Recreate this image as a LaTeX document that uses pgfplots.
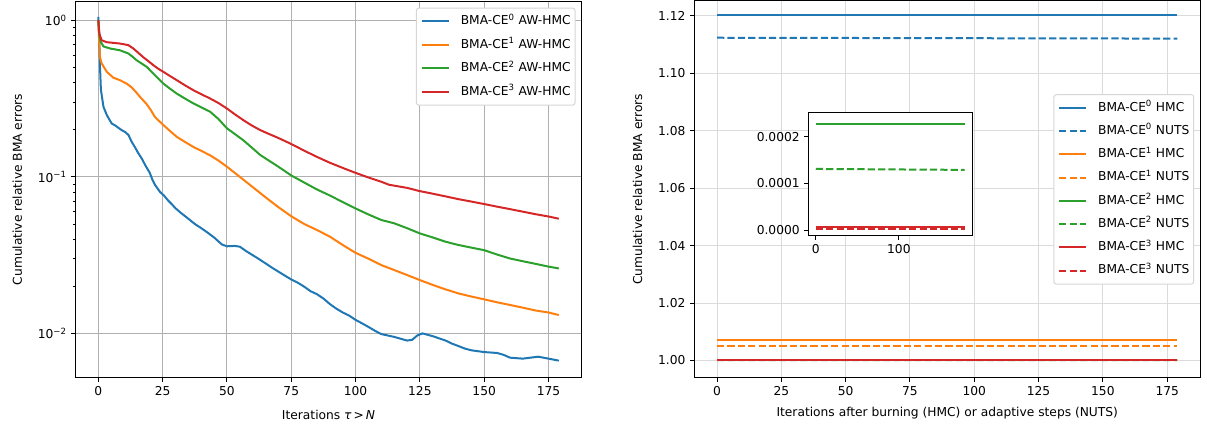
\documentclass[border=0pt]{standalone}
\usepackage{fontspec}
\setmainfont{DejaVu Sans}
\usepackage{pgfplots}
\pgfplotsset{compat=1.18}
\definecolor{cA}{HTML}{1F77B4}
\definecolor{cB}{HTML}{FF7F0E}
\definecolor{cC}{HTML}{2CA02C}
\definecolor{cD}{HTML}{D62728}
\definecolor{lgfr}{HTML}{D6D6D6}
\newcommand\fs{\fontsize{9.8}{11.8}\selectfont}
\tikzset{
  mplsolid/.style={solid, line width=1.6pt},
  mpldash/.style={line width=1.6pt, dash pattern=on 5.8pt off 2.5pt},
}
\pgfplotsset{
  mpl/.style={
    scale only axis, width=405.2pt, height=301.4pt,
    axis line style={line width=0.8pt, black},
    every tick/.style={black, line width=0.8pt},
    major tick length=3.4pt, minor tick length=2pt,
    minor tick style={line width=0.6pt},
    tick align=outside, tick pos=left,
    tick label style={font=\fs},
    label style={font=\fs, inner sep=0pt},
    /pgf/number format/assume math mode=true,
    scaled ticks=false,
    legend cell align=left,
    legend image code/.code={\draw[##1] (0pt,0pt) -- (21.8pt,0pt);},
  },
  mpllegend/.style={
    legend style={font=\fs, draw=lgfr, line width=0.8pt, rounded corners=2pt,
      fill=white,
      inner xsep=3.5pt, inner ysep=5.9pt, row sep=#1, column sep=8.6pt,
      nodes={inner sep=0pt, text height=7.3pt, text depth=2.2pt}},
  },
}
\begin{document}
\begin{tikzpicture}
\useasboundingbox (0,0) rectangle (965.6pt,344pt);
% ---------------- left
\begin{axis}[mpl, mpllegend=9.3pt,
  at={(60.24pt,41.6pt)}, anchor=south west,
  ymode=log, xmin=-8.95, xmax=187.95, ymin=0.00519, ymax=1.322,
  xtick={0,25,50,75,100,125,150,175},
  ytick={0.01,0.1,1},
  yticklabels={10\textsuperscript{−2},10\textsuperscript{−1},10\textsuperscript{0}},
  grid=major, major grid style={line width=0.8pt, color=black!31},
  xlabel={Iterations {\itshape τ}\,>\,{\itshape N}},
  ylabel={Cumulative relative BMA errors},
  xlabel style={at={(axis description cs:0.5,-0.098)}, anchor=center},
  ylabel style={at={(axis description cs:-0.1147,0.5)}, anchor=center},
  legend style={at={(0.9876,0.9833)}, anchor=north east},
]
\addplot[color=cA, mplsolid, mark=none] coordinates {
(0,1.05) (0.3,0.82) (0.66,0.50) (1,0.36) (2,0.28) (3.3,0.248) (4.3,0.232) (5.2,0.219) (6.5,0.213)
(9,0.199) (10.5,0.193) (11.7,0.185) (13,0.167) (14.3,0.154) (15.6,0.141) (17,0.13) (18.2,0.119) (20,0.106) (21,0.096) (22,0.089)
(24,0.080) (25.5,0.076) (27,0.071) (28.5,0.067) (30,0.063) (32,0.059) (35,0.054) (37.5,0.050) (40,0.047) (42.5,0.044) (45,0.041) (48,0.037)
(50,0.036) (53,0.0362) (55,0.0358) (57.5,0.0335) (60,0.0316) (62.5,0.0298) (65,0.028) (67.5,0.0263) (70,0.0248) (72.5,0.0234) (75,0.0221)
(77.5,0.0211) (80,0.0199) (82.5,0.0186) (85,0.0178) (87.5,0.0167) (90,0.0154) (92.5,0.0144) (95,0.0136) (97.5,0.0130) (100,0.0122) (102.5,0.0116) (105,0.0110) (107.5,0.0104) (110,0.0099)
(115,0.0095) (118,0.0092) (120,0.0090) (122,0.0091) (124,0.0097) (126,0.0100) (128,0.0098) (130,0.0096)
(135,0.0090) (137.5,0.0086) (140,0.0083) (142.5,0.0080) (145,0.0078) (150,0.0076) (155,0.0075) (157.5,0.0073) (160,0.0070)
(165,0.0069) (168,0.0070) (171,0.0071) (175,0.0069) (179,0.0067)};
\addlegendentry{BMA-CE\textsuperscript{0} AW-HMC}
\addplot[color=cB, mplsolid, mark=none] coordinates {
(0,1.0) (0.3,0.745) (0.66,0.58) (1.3,0.53) (3.3,0.468) (5.8,0.43) (8.4,0.414) (11,0.394)
(13,0.372) (14.6,0.348) (16.2,0.324) (18.8,0.291) (20.4,0.267) (22,0.241) (25.3,0.214) (27.9,0.196) (30.5,0.18) (33.7,0.167) (37,0.155)
(40.2,0.146) (43.5,0.137) (46.7,0.127) (50,0.116) (55,0.10) (60,0.086) (65,0.074) (70,0.064) (75,0.056) (80,0.050)
(85,0.0457) (90,0.0415) (95,0.0367) (100,0.0327) (105,0.030) (110,0.0273) (115,0.0254)
(120,0.0236) (125,0.0219) (130,0.0204) (135,0.0191) (140,0.018) (145,0.0172) (150,0.0165) (155,0.0158) (160,0.0152) (165,0.0146) (170,0.014) (175,0.0136)
(179,0.0131)};
\addlegendentry{BMA-CE\textsuperscript{1} AW-HMC}
\addplot[color=cC, mplsolid, mark=none] coordinates {
(0,1.0) (0.4,0.80) (0.9,0.73) (2,0.68) (4.6,0.66) (8.4,0.643) (11.7,0.613) (13.3,0.585) (14.9,0.555)
(18.8,0.504) (22,0.446) (25.3,0.394) (27.9,0.365) (30.5,0.34) (33.7,0.316) (37,0.294) (40.2,0.277) (43.5,0.26) (46.7,0.234) (50,0.204)
(53.2,0.187) (56.4,0.171) (59.6,0.154) (62.9,0.138) (65,0.131) (70,0.116) (75,0.102) (80,0.092) (85,0.083)
(90,0.076) (95,0.069) (100,0.0628) (105,0.0575) (110,0.053) (115,0.0505) (120,0.047)
(125,0.0435) (130,0.041) (135,0.0385) (140,0.0367) (145,0.0353) (150,0.034) (155,0.0319) (160,0.0301) (165,0.0289)
(170,0.0278) (175,0.0267) (179,0.026)};
\addlegendentry{BMA-CE\textsuperscript{2} AW-HMC}
\addplot[color=cD, mplsolid, mark=none] coordinates {
(0,1.0) (0.4,0.82) (1.3,0.745) (3.3,0.724) (8.4,0.71) (11.7,0.693) (13.6,0.66) (15.5,0.62)
(17.5,0.58) (19.5,0.547) (21.4,0.516) (23.3,0.49) (25.3,0.468) (27.9,0.44) (30.5,0.414) (33.7,0.384) (37,0.357) (40.2,0.336) (43.5,0.316) (46.7,0.296) (50,0.273)
(53.2,0.25) (56.4,0.23) (59.6,0.213) (62.9,0.199) (65,0.192) (70,0.177) (75,0.162) (80,0.147) (85,0.134)
(90,0.123) (95,0.114) (100,0.106) (105,0.099) (110,0.093) (113,0.089) (120,0.085)
(125,0.081) (130,0.078) (135,0.075) (140,0.072) (145,0.0695) (150,0.067) (155,0.0645) (160,0.0622) (165,0.0599) (170,0.0577) (175,0.0558) (179,0.054)};
\addlegendentry{BMA-CE\textsuperscript{3} AW-HMC}
\end{axis}
% ---------------- right
\begin{axis}[mpl, mpllegend=9.1pt,
  at={(555.2pt,41.8pt)}, anchor=south west,
  xmin=-8.95, xmax=187.95, ymin=0.99397, ymax=1.1252,
  xtick={0,25,50,75,100,125,150,175},
  ytick={1.00,1.02,1.04,1.06,1.08,1.10,1.12},
  yticklabels={1.00,1.02,1.04,1.06,1.08,1.10,1.12},
  grid=major, major grid style={line width=0.8pt, color=black!14},
  xlabel={Iterations after burning (HMC) or adaptive steps (NUTS)},
  ylabel={Cumulative relative BMA errors},
  xlabel style={at={(axis description cs:0.5,-0.0938)}, anchor=center},
  ylabel style={at={(axis description cs:-0.1116,0.5)}, anchor=center},
  legend style={at={(0.9876,0.5)}, anchor=east},
]
\addplot[color=cA, mplsolid, mark=none] coordinates {(0,1.1202) (90,1.1202) (179,1.1202)};
\addlegendentry{BMA-CE\textsuperscript{0} HMC}
\addplot[color=cA, mpldash, mark=none] coordinates {(0,1.1124) (90,1.11225) (179,1.1121)};
\addlegendentry{BMA-CE\textsuperscript{0} NUTS}
\addplot[color=cB, mplsolid, mark=none] coordinates {(0,1.0070) (90,1.0070) (179,1.0070)};
\addlegendentry{BMA-CE\textsuperscript{1} HMC}
\addplot[color=cB, mpldash, mark=none] coordinates {(0,1.0052) (90,1.0052) (179,1.0052)};
\addlegendentry{BMA-CE\textsuperscript{1} NUTS}
\addplot[color=cC, mplsolid, mark=none] coordinates {(0,1.000228) (90,1.000228) (179,1.000228)};
\addlegendentry{BMA-CE\textsuperscript{2} HMC}
\addplot[color=cC, mpldash, mark=none] coordinates {(0,1.000131) (90,1.00013) (179,1.000129)};
\addlegendentry{BMA-CE\textsuperscript{2} NUTS}
\addplot[color=cD, mplsolid, mark=none] coordinates {(0,1.0000075) (90,1.0000075) (179,1.0000075)};
\addlegendentry{BMA-CE\textsuperscript{3} HMC}
\addplot[color=cD, mpldash, mark=none] coordinates {(0,1.000003) (90,1.000003) (179,1.000003)};
\addlegendentry{BMA-CE\textsuperscript{3} NUTS}
\end{axis}
% ---------------- inset
\begin{axis}[mpl,
  at={(646.64pt,155.76pt)}, anchor=south west, width=130.96pt, height=98.4pt,
  axis background/.style={fill=white},
  xmin=-8.95, xmax=187.95, ymin=-0.0000107, ymax=0.000252,
  xtick={0,100}, ytick={0,0.0001,0.0002},
  yticklabels={0.0000,0.0001,0.0002},
]
\addplot[color=cC, mplsolid, mark=none] coordinates {(0,0.000228) (90,0.000228) (179,0.000228)};
\addplot[color=cC, mpldash, mark=none] coordinates {(0,0.000131) (90,0.00013) (179,0.000129)};
\addplot[color=cD, mplsolid, mark=none] coordinates {(0,0.0000075) (90,0.0000075) (179,0.0000075)};
\addplot[color=cD, mpldash, mark=none] coordinates {(0,0.000003) (90,0.000003) (179,0.000003)};
\node[anchor=south west, inner sep=0pt, font=\fs] at (rel axis cs:0.006,1.03) {+1};
\end{axis}
\end{tikzpicture}
\end{document}
